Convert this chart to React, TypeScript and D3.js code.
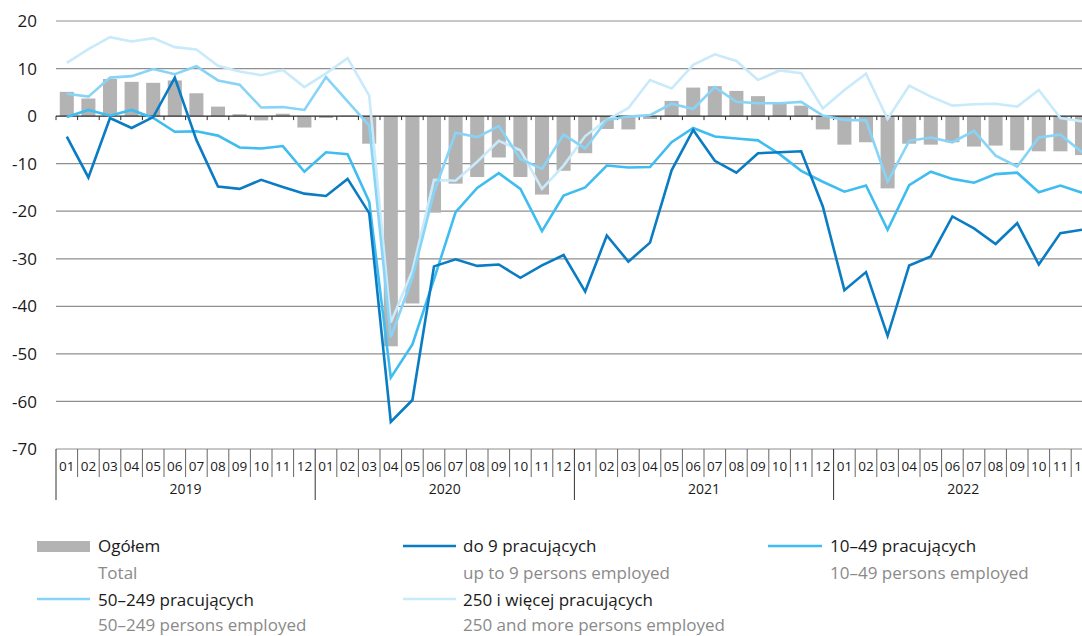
import React from "react";
import * as d3 from "d3";

const years = ["2019", "2020", "2021", "2022"];
const monthLabels = ["01", "02", "03", "04", "05", "06", "07", "08", "09", "10", "11", "12"];
const yTicks = [20, 10, 0, -10, -20, -30, -40, -50, -60, -70];

const total = [
  5.1, 3.7, 7.8, 7.2, 7.0, 7.5, 4.8, 2.0, 0.4, -0.9, 0.5, -2.4,
  -0.4, 0.1, -5.8, -48.4, -39.4, -20.3, -14.2, -12.8, -8.7, -12.8, -16.5, -11.5,
  -7.8, -2.7, -2.8, -0.6, 3.2, 6.0, 6.3, 5.3, 4.2, 2.7, 2.2, -2.8,
  -6.0, -5.5, -15.2, -5.8, -6.0, -5.5, -6.4, -6.2, -7.2, -7.4, -7.4, -8.2,
];
const upTo9 = [
  -4.3, -12.9, -0.4, -2.5, -0.2, 8.1, -5.0, -14.8, -15.3, -13.4, -14.9, -16.3,
  -16.8, -13.2, -20.4, -64.3, -59.7, -31.6, -30.1, -31.5, -31.2, -34.0, -31.4, -29.2,
  -36.9, -25.1, -30.6, -26.6, -11.4, -2.9, -9.4, -11.9, -7.8, -7.6, -7.4, -19.0,
  -36.6, -32.8, -46.2, -31.4, -29.5, -21.1, -23.6, -26.9, -22.5, -31.2, -24.6, -23.9,
];
const s10to49 = [
  -0.2, 1.3, 0.1, 1.3, -0.4, -3.3, -3.2, -4.1, -6.6, -6.8, -6.3, -11.7,
  -7.6, -8.0, -18.0, -55.0, -48.0, -34.3, -20.2, -15.1, -12.0, -15.3, -24.2, -16.7,
  -15.0, -10.4, -10.8, -10.7, -5.5, -2.5, -4.3, -4.7, -5.1, -8.0, -11.5, -13.8,
  -15.9, -14.6, -23.9, -14.5, -11.7, -13.2, -14.0, -12.2, -11.9, -16.0, -14.6, -16.1,
];
const s50to249 = [
  4.7, 4.1, 8.1, 8.4, 9.9, 8.8, 10.5, 7.5, 6.6, 1.8, 1.9, 1.3,
  8.2, 3.1, -2.0, -46.5, -34.0, -16.0, -3.5, -4.4, -2.1, -9.0, -11.1, -3.9,
  -6.8, -0.8, -0.1, 0.2, 2.6, 1.5, 6.1, 3.0, 2.7, 2.7, 3.0, 0.1,
  -0.8, -0.9, -13.8, -5.2, -4.5, -5.5, -3.1, -8.3, -10.6, -4.5, -3.9, -7.6,
];
const s250plus = [
  11.2, 14.1, 16.6, 15.7, 16.4, 14.5, 14.0, 10.6, 9.4, 8.6, 9.7, 6.1,
  9.0, 12.2, 4.3, -43.4, -32.5, -13.4, -13.6, -9.6, -5.2, -7.2, -15.3, -10.4,
  -4.2, -0.8, 1.7, 7.6, 5.8, 10.8, 13.0, 11.6, 7.6, 9.6, 9.0, 1.6,
  5.5, 8.9, -0.6, 6.4, 4.1, 2.2, 2.5, 2.6, 2.0, 5.5, -0.4, -1.1,
];

const C_BAR = "#b3b3b3";
const C_DARK = "#0a7cc4";
const C_1049 = "#3fbdf0";
const C_50249 = "#88d4f6";
const C_250 = "#c8eafa";

const FONT = "'Open Sans', 'Noto Sans', sans-serif";

export default function App() {
  const W = 1082;
  const H = 636;
  const x0 = 56;
  const mw = 21.6;
  const n = total.length;
  const idx = d3.range(n);

  const x = d3.scaleBand<number>().domain(idx).range([x0, x0 + n * mw]).paddingInner(0.35).paddingOuter(0.175);
  const xc = (i: number) => x0 + mw * (i + 0.5);
  const y = d3.scaleLinear().domain([-70, 20]).range([449, 21]);

  const line = d3
    .line<number>()
    .x((_, i) => xc(i))
    .y((v) => y(v));

  const series = [
    { data: s250plus, color: C_250 },
    { data: s50to249, color: C_50249 },
    { data: s10to49, color: C_1049 },
    { data: upTo9, color: C_DARK },
  ];

  const xEnd = x0 + n * mw;
  const axisY = y(-70);

  return (
    <div style={{ position: "absolute", left: 0, top: 0, width: W, height: H, overflow: "hidden", background: "#fff" }}>
      <svg width={W} height={H} style={{ display: "block", fontFamily: FONT }}>
        {yTicks
          .filter((t) => t !== 0 && t !== -70)
          .map((t) => (
            <line key={"g" + t} x1={x0} x2={xEnd} y1={y(t)} y2={y(t)} stroke="#8f8f8f" strokeWidth={1.2} />
          ))}
        {yTicks.map((t) => (
          <text key={"yl" + t} x={37} y={y(t)} dy="0.36em" textAnchor="end" fontSize={17} fill="#1a1a1a">
            {t}
          </text>
        ))}
        {total.map((v, i) => (
          <rect
            key={"b" + i}
            x={x(i)}
            width={x.bandwidth()}
            y={Math.min(y(v), y(0))}
            height={Math.abs(y(v) - y(0))}
            fill={C_BAR}
          />
        ))}
        <line x1={x0} x2={xEnd} y1={y(0)} y2={y(0)} stroke="#2a2a2a" strokeWidth={1.4} />
        {d3.range(n + 1).map((i) => (
          <line key={"zt" + i} x1={x0 + i * mw} x2={x0 + i * mw} y1={y(0)} y2={y(0) + 4} stroke="#2a2a2a" strokeWidth={1} />
        ))}
        {series.map((s, k) => (
          <path key={"l" + k} d={line(s.data) || ""} fill="none" stroke={s.color} strokeWidth={2.6} strokeLinejoin="miter" />
        ))}
        <line x1={x0} x2={xEnd} y1={axisY} y2={axisY} stroke="#8f8f8f" strokeWidth={1.2} />
        {d3.range(n + 1).map((i) => {
          const isYear = i % 12 === 0;
          return (
            <line
              key={"ms" + i}
              x1={x0 + i * mw}
              x2={x0 + i * mw}
              y1={axisY}
              y2={isYear ? 500 : 477}
              stroke={isYear ? "#333" : "#666"}
              strokeWidth={1}
            />
          );
        })}
        {idx.map((i) => (
          <text key={"ml" + i} x={xc(i)} y={471} textAnchor="middle" fontSize={13.5} fill="#1a1a1a">
            {monthLabels[i % 12]}
          </text>
        ))}
        {years.map((yr, k) => (
          <text key={"yr" + yr} x={x0 + (k * 12 + 6) * mw} y={494} textAnchor="middle" fontSize={14} fill="#1a1a1a">
            {yr}
          </text>
        ))}
        <g fontSize={17}>
          <rect x={37} y={541} width={53} height={11} fill={C_BAR} />
          <text x={98} y={552} fill="#1a1a1a">Ogółem</text>
          <text x={98} y={579} fill="#8a8a8a">Total</text>

          <line x1={403} x2={456} y1={546} y2={546} stroke={C_DARK} strokeWidth={2.6} />
          <text x={463} y={552} fill="#1a1a1a">do 9 pracujących</text>
          <text x={463} y={579} fill="#8a8a8a">up to 9 persons employed</text>

          <line x1={768} x2={822} y1={546} y2={546} stroke={C_1049} strokeWidth={2.6} />
          <text x={830} y={552} fill="#1a1a1a">10–49 pracujących</text>
          <text x={830} y={579} fill="#8a8a8a">10–49 persons employed</text>

          <line x1={37} x2={90} y1={599} y2={599} stroke={C_50249} strokeWidth={2.6} />
          <text x={98} y={606} fill="#1a1a1a">50–249 pracujących</text>
          <text x={98} y={631} fill="#8a8a8a">50–249 persons employed</text>

          <line x1={403} x2={456} y1={599} y2={599} stroke={C_250} strokeWidth={2.6} />
          <text x={463} y={606} fill="#1a1a1a">250 i więcej pracujących</text>
          <text x={463} y={631} fill="#8a8a8a">250 and more persons employed</text>
        </g>
      </svg>
    </div>
  );
}
